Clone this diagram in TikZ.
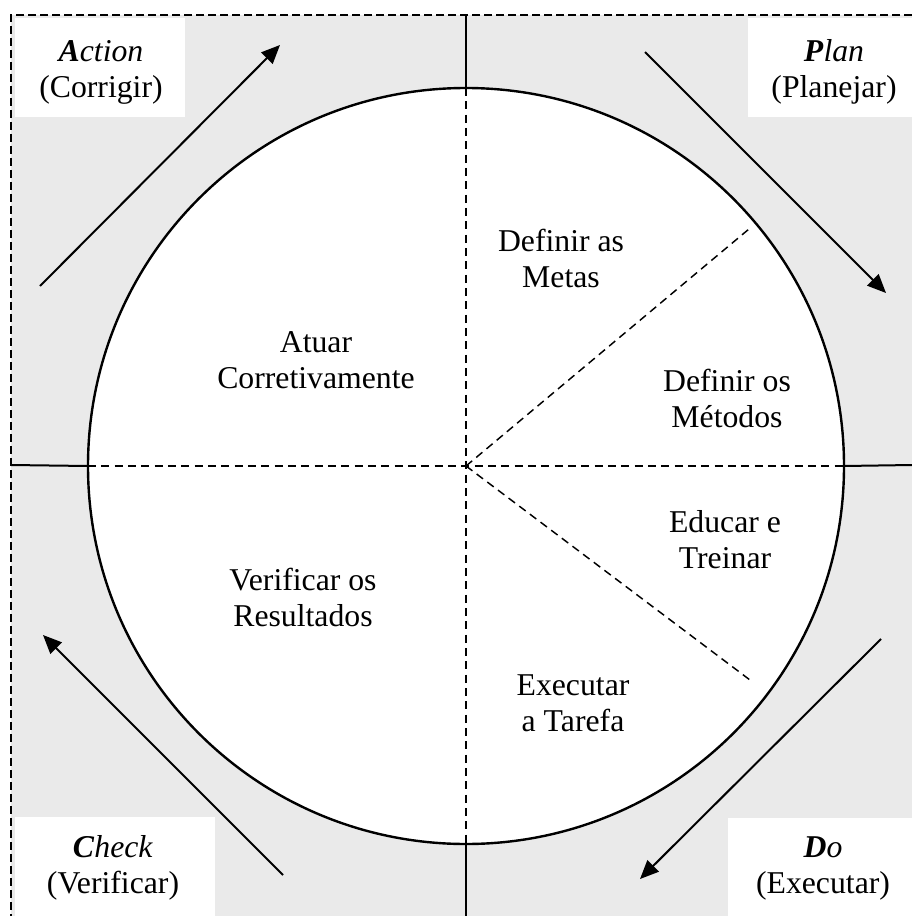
\documentclass[tikz,border=0pt]{standalone}
\usepackage{fontspec}
\setmainfont{Liberation Serif}
\usetikzlibrary{arrows.meta}
\definecolor{bggray}{HTML}{EAEAEA}
\begin{document}
\begin{tikzpicture}[x=0.75pt,y=-0.75pt,
  txt/.style={align=center,inner sep=0pt,font=\fontsize{23.8pt}{27pt}\selectfont},
  border/.style={line width=1.3pt,dash pattern=on 6pt off 3pt},
  solidline/.style={line width=1.5pt},
  inner dash/.style={line width=1.1pt,dash pattern=on 6pt off 4pt},
  cyclearrow/.style={line width=1.5pt,-{Triangle[length=14pt,width=12pt]}},
  whitebox/.style={fill=white}]
\useasboundingbox (0,0) rectangle (912,916);
\fill[bggray] (11,15) rectangle (912,916);
\draw[border] (912,15) -- (11,15) -- (11,916);
% white label boxes
\fill[whitebox] (15,18) rectangle (185,117);
\fill[whitebox] (748,18) rectangle (912,117);
\fill[whitebox] (15,817) rectangle (215,916);
\fill[whitebox] (728,818) rectangle (912,916);
% circle
\coordinate (O) at (466,466);
\node[circle,draw,fill=white,line width=1.8pt,minimum size=567pt,inner sep=0pt,outer sep=0pt] (circ) at (O) {};
% solid axis lines outside the circle
\coordinate (Tt) at (466,15);
\coordinate (Tb) at (466,916);
\coordinate (Tl) at (11,465);
\coordinate (Tr) at (912,465);
\draw[solidline] (Tt) -- (circ.north);
\draw[solidline] (circ.south) -- (Tb);
\draw[solidline] (Tl) -- (circ.west);
\draw[solidline] (circ.east) -- (Tr);
% dashed dividers
\coordinate (Du) at (749,229);
\coordinate (Dd) at (750,680);
\draw[inner dash] (circ.west) -- (circ.east);
\draw[inner dash] (circ.north) -- (circ.south);
\draw[inner dash] (O) -- (Du);
\draw[inner dash] (O) -- (Dd);
% arrows
\coordinate (a1) at (40,286);  \coordinate (a2) at (280,45);
\coordinate (p1) at (645,52);  \coordinate (p2) at (886,293);
\coordinate (d1) at (881,639); \coordinate (d2) at (640,879);
\coordinate (c1) at (283,875); \coordinate (c2) at (43,635);
\draw[cyclearrow] (a1) -- (a2);
\draw[cyclearrow] (p1) -- (p2);
\draw[cyclearrow] (d1) -- (d2);
\draw[cyclearrow] (c1) -- (c2);
% corner labels
\node[txt] (action) at (101,72) {\textbf{\textit{A}}\textit{ction}\\(Corrigir)};
\node[txt] (plan) at (834,72) {\textbf{\textit{P}}\textit{lan}\\(Planejar)};
\node[txt] (check) at (113,868) {\textbf{\textit{C}}\textit{heck}\\(Verificar)};
\node[txt] (do) at (823,868) {\textbf{\textit{D}}\textit{o}\\(Executar)};
% sector labels
\node[txt] (metas) at (561,258) {Definir as\\Metas};
\node[txt] (atuar) at (316,360) {Atuar\\Corretivamente};
\node[txt] (metodos) at (727,398) {Definir os\\Métodos};
\node[txt] (educar) at (725,540) {Educar e\\Treinar};
\node[txt] (verificar) at (303,597) {Verificar os\\Resultados};
\node[txt] (executar) at (573,703) {Executar\\a Tarefa};
\end{tikzpicture}
\end{document}
